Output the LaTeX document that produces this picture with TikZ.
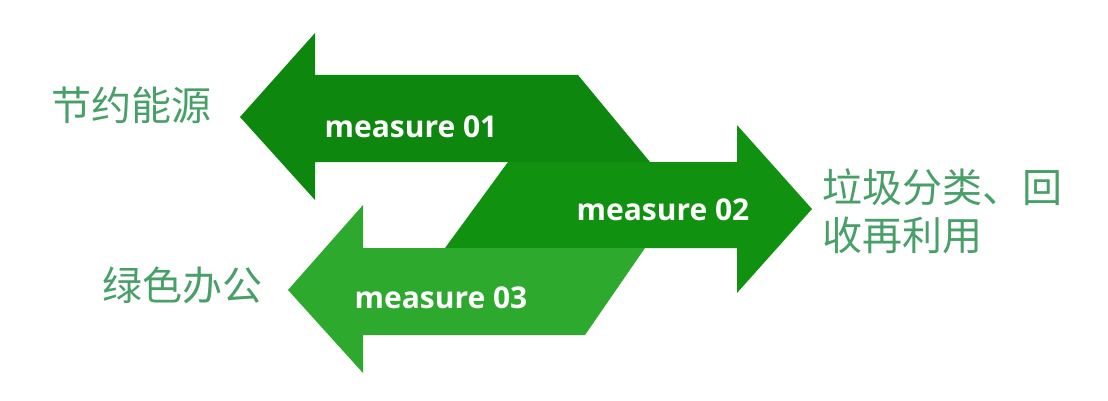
\documentclass[tikz,border=0pt]{standalone}
\usepackage{fontspec}
\setsansfont{Open Sans}
\newfontfamily\cjk{Noto Sans CJK SC}
\definecolor{greenone}{RGB}{13,135,13}
\definecolor{greentwo}{RGB}{16,146,16}
\definecolor{greenthree}{RGB}{45,170,45}
\definecolor{labelgreen}{RGB}{72,160,104}
\tikzset{
  measure/.style = {text = white, font = \sffamily\bfseries\fontsize{30}{35}\selectfont},
  goal/.style = {text = labelgreen, anchor = west, align = left, inner sep = 0pt, font = \cjk\fontsize{40}{48}\selectfont}
}
\begin{document}
\begin{tikzpicture}[x = 1pt, y = -1pt]
\useasboundingbox (0,0) rectangle (1108,401);
% three arrows, top to bottom
\draw [fill = greenone, draw = none] (240,117) -- (315,33) -- (315,75) -- (578,75) -- (650,162) -- (315,162) -- (315,200) -- cycle;
\draw [fill = greentwo, draw = none] (508,162) -- (737,162) -- (737,125) -- (812,209) -- (737,293) -- (737,248) -- (445,248) -- cycle;
\draw [fill = greenthree, draw = none] (288,290) -- (363,205) -- (363,248) -- (645,248) -- (585,335) -- (363,335) -- (363,373) -- cycle;
\node [measure] (m1) at (411,127) {measure 01};
\node [measure] (m2) at (663,210) {measure 02};
\node [measure] (m3) at (441,298) {measure 03};
\node [goal] (save) at (51,105) {节约能源};
\node [goal] (office) at (102,285) {绿色办公};
\node [goal] (waste) at (822,211) {垃圾分类、回\\收再利用};
\end{tikzpicture}
\end{document}
